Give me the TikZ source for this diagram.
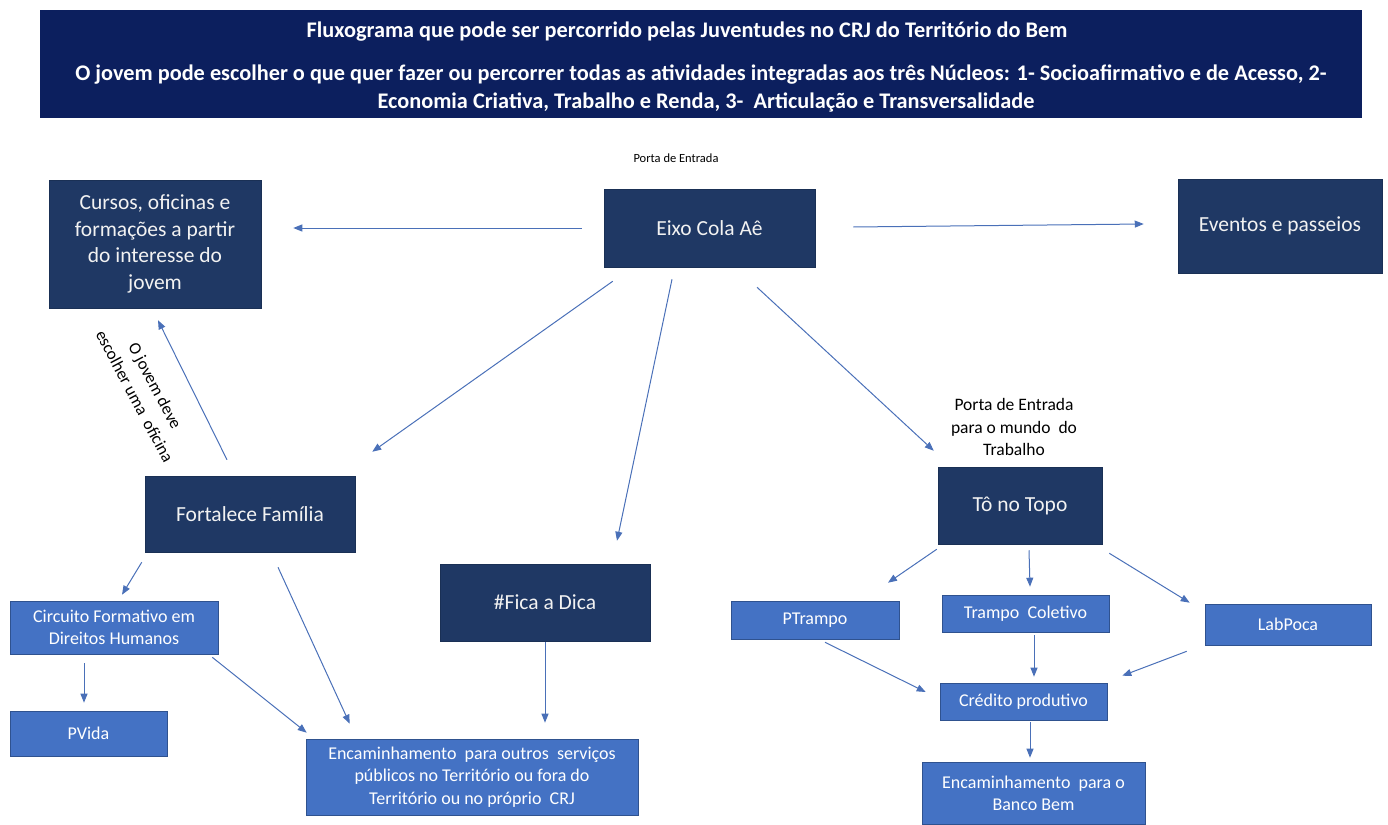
\documentclass[tikz,border=0pt]{standalone}
\usepackage{fontspec}
\setmainfont{Carlito}
\usetikzlibrary{arrows.meta,calc}
\definecolor{hdrc}{RGB}{12,31,94}
\definecolor{dk}{RGB}{31,56,100}
\definecolor{mb}{RGB}{68,114,196}
\definecolor{mbd}{RGB}{47,82,143}
\definecolor{arrc}{RGB}{74,112,184}
\begin{document}
\begin{tikzpicture}[x=1pt,y=-1pt,
  dkbox/.style={rectangle, fill=dk, draw=dk!85!black, line width=0.5pt, text=white!95!black, align=center, inner sep=0pt, font=\fontsize{21.5}{26.7}\selectfont},
  bbox/.style={rectangle, fill=mb, draw=mbd, line width=0.6pt, text=white, align=center, inner sep=0pt, font=\fontsize{18}{22.5}\selectfont},
  conn/.style={draw=arrc, line width=1pt, -{Triangle[length=9pt,width=7pt]}},
  lbl/.style={text=black, align=center, inner sep=0pt}]
\useasboundingbox (0,0) rectangle (1388,824);

% header
\node[rectangle, fill=hdrc, minimum width=1322pt, minimum height=108pt, inner sep=0pt] (hdr) at (701,64) {};
\node[text=white, align=center, inner sep=0pt, font=\bfseries\fontsize{22.3}{28}\selectfont] (hdrtxt) at (701,67)
 {Fluxograma que pode ser percorrido pelas Juventudes no CRJ do Território do Bem\hspace*{28pt}\\[15pt]
  O jovem pode escolher o que quer fazer ou percorrer todas as atividades integradas aos três Núcleos: 1- Socioafirmativo e de Acesso, 2-\hspace*{-10pt}\\
  Economia Criativa, Trabalho e Renda, 3-\ \ Articulação e Transversalidade\hspace*{-10pt}};

% dark boxes
\node[dkbox, minimum width=211pt, minimum height=78pt] (eixo) at (709.5,228) {Eixo Cola Aê};
\node[dkbox, minimum width=212pt, minimum height=128pt] (cursos) at (155,244) {Cursos, oficinas e\\formações a partir\\do interesse do\\jovem};
\node[dkbox, minimum width=204pt, minimum height=94pt] (eventos) at (1280,226) {Eventos e passeios};
\node[dkbox, minimum width=210pt, minimum height=76pt] (fort) at (250,514) {Fortalece Família};
\node[dkbox, minimum width=210pt, minimum height=77pt] (fica) at (545,602.5) {\#Fica a Dica};
\node[dkbox, minimum width=164pt, minimum height=77pt] (topo) at (1020,505.5) {Tô no Topo};

% blue boxes
\node[bbox, minimum width=208pt, minimum height=53pt] (circ) at (114,627.5) {Circuito Formativo em\\Direitos Humanos};
\node[bbox, minimum width=157pt, minimum height=45pt] (pvida) at (88.5,733.5) {PVida};
\node[bbox, minimum width=332pt, minimum height=76pt] (enc) at (472,777) {Encaminhamento\ \ para outros\ \ serviços\\públicos no Território ou fora do\\Território ou no próprio\ \ CRJ};
\node[bbox, minimum width=168pt, minimum height=38pt] (ptrampo) at (815,620) {PTrampo};
\node[bbox, minimum width=167pt, minimum height=37pt] (trampo) at (1025.5,613.5) {Trampo\ \ Coletivo};
\node[bbox, minimum width=166pt, minimum height=41pt] (lab) at (1288,624.5) {LabPoca};
\node[bbox, minimum width=167pt, minimum height=37pt] (cred) at (1023.5,701.5) {Crédito produtivo};
\node[bbox, minimum width=223pt, minimum height=62pt, text depth=0pt] (banco) at (1033.5,793) {Encaminhamento\ \ para o\\Banco Bem};

% labels
\node[lbl, font=\fontsize{12.5}{16}\selectfont] (porta1) at (676,158) {Porta de Entrada};
\node[lbl, font=\fontsize{17.5}{22.5}\selectfont] (porta2) at (1014,427) {Porta de Entrada\\para o mundo\ \ do\\Trabalho};
\node[lbl, rotate=-62, font=\fontsize{17}{23}\selectfont] (jov) at (145,391) {O jovem deve\\escolher uma\ \ oficina};

% connectors
\draw[conn] ($(eixo.west)+(-22,0)$) -- ($(eixo.west -| cursos.east)+(32,0)$);
\draw[conn] ($(eixo.east)+(38,-1)$) -- ($(eventos.west)+(-34,-2)$);
\draw[conn] ($(eixo.south west)+(9,14)$) -- ($(fort.north east)+(17,-24)$);
\draw[conn] ($(eixo.south)+(-37.5,12)$) -- ($(fica.north)+(72,-23)$);
\draw[conn] ($(eixo.south)+(47.5,20)$) -- ($(topo.north west)+(-4,-16)$);
\draw[conn] ($(fort.north)+(-23,-16)$) -- ($(cursos.south)+(3,12)$);
\draw[conn] ($(fort.south west)+(-3,10)$) -- ($(circ.north)+(8,-6)$);
\draw[conn] ($(fort.south)+(28,15)$) -- ($(enc.north west)+(44,-15)$);
\draw[conn] ($(circ.south)+(-30,9)$) -- ($(pvida.north)+(-4.5,-8)$);
\draw[conn] ($(circ.south east)+(-6,3)$) -- ($(enc.north west)+(1,-6)$);
\draw[conn] ($(fica.south)+(0,1)$) -- ($(fica.south |- enc.north)+(0,-16)$);
\draw[conn] ($(topo.south west)+(-1,5)$) -- ($(ptrampo.north)+(73,-18)$);
\draw[conn] ($(topo.south)+(9,6)$) -- ($(trampo.north)+(4.5,-8)$);
\draw[conn] ($(topo.south east)+(7,9)$) -- ($(lab.north west)+(-15,-1)$);
\draw[conn] ($(ptrampo.south)+(10,3)$) -- ($(cred.west)+(-14,-9.5)$);
\draw[conn] ($(trampo.south)+(8.5,3)$) -- ($(cred.north)+(10.5,-6)$);
\draw[conn] ($(lab.south west)+(-18,6)$) -- ($(cred.north east)+(15,-7)$);
\draw[conn] ($(cred.south)+(6.5,2)$) -- ($(banco.north)+(-3.5,-4)$);
\end{tikzpicture}
\end{document}
